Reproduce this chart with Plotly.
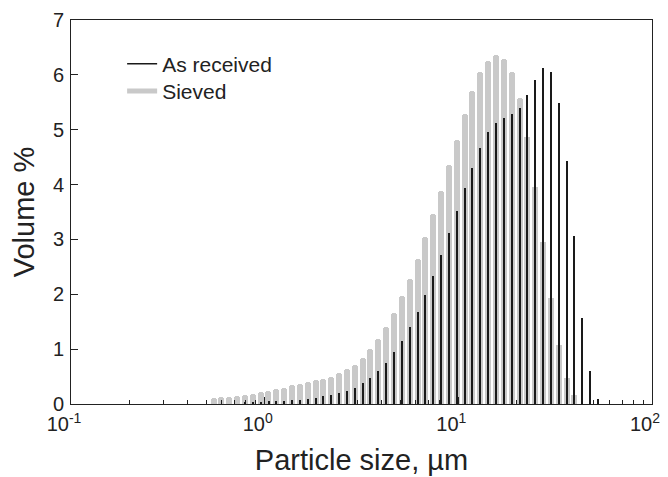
import plotly.graph_objects as go

# Particle size channels (um)
sizes = [0.545, 0.598, 0.656, 0.721, 0.791, 0.868, 0.953, 1.047, 1.149, 1.261,
         1.385, 1.520, 1.669, 1.832, 2.011, 2.208, 2.423, 2.660, 2.920, 3.206,
         3.519, 3.863, 4.241, 4.656, 5.111, 5.611, 6.159, 6.761, 7.422, 8.148,
         8.944, 9.819, 10.78, 11.83, 12.99, 14.26, 15.65, 17.18, 18.86, 20.71,
         22.73, 24.95, 27.39, 30.07, 33.01, 36.24, 39.78, 43.67, 47.94, 52.62]

# Volume % - sieved powder
sieved = [0.11, 0.12, 0.13, 0.15, 0.16, 0.18, 0.21, 0.24, 0.27, 0.30,
          0.34, 0.37, 0.40, 0.43, 0.46, 0.50, 0.57, 0.63, 0.72, 0.84,
          1.00, 1.18, 1.40, 1.66, 1.96, 2.28, 2.65, 3.04, 3.46, 3.89,
          4.35, 4.82, 5.29, 5.71, 6.05, 6.26, 6.36, 6.29, 6.05, 5.57,
          4.86, 3.96, 2.95, 1.93, 1.08, 0.47, 0.16, None, None, None]

# Volume % - as received powder
received = [None, None, None, None, 0.02, 0.03, 0.04, 0.05, 0.05, 0.06,
            0.07, 0.08, 0.09, 0.11, 0.14, 0.16, 0.20, 0.24, 0.30, 0.38,
            0.47, 0.60, 0.75, 0.94, 1.15, 1.40, 1.68, 1.99, 2.33, 2.71,
            3.11, 3.52, 3.93, 4.31, 4.67, 4.95, 5.13, 5.22, 5.28, 5.40,
            5.63, 5.90, 6.12, 6.05, 5.48, 4.43, 3.06, 1.57, 0.60, 0.10]

x_ticks = [0.1, 1, 10, 100]
x_ticktext = ["10<sup>-1</sup>", "10<sup>0</sup>", "10<sup>1</sup>", "10<sup>2</sup>"]
minor_vals = [m * 10 ** e for e in (-1, 0, 1) for m in range(2, 10)]

GREY = "#c9c9c9"
BLACK = "#1a1a1a"

# bar widths expressed in linear units so they look constant on a log axis
def widths(half_log):
    f = 10 ** half_log - 10 ** (-half_log)
    return [d * f for d in sizes]

fig = go.Figure()
fig.add_trace(go.Bar(x=sizes, y=sieved, width=widths(0.0155),
                     marker=dict(color=GREY, line=dict(width=0), cornerradius=3),
                     showlegend=False, name="Sieved"))
fig.add_trace(go.Bar(x=sizes, y=received, width=widths(0.0052),
                     marker=dict(color=BLACK, line=dict(width=0)),
                     showlegend=False, name="As received"))
# legend entries
fig.add_trace(go.Scatter(x=[None], y=[None], mode="lines", name="As received",
                         line=dict(color=BLACK, width=1.5), legend="legend"))
fig.add_trace(go.Scatter(x=[None], y=[None], mode="lines", name="Sieved",
                         line=dict(color=GREY, width=5), legend="legend2"))

font = "Liberation Sans, Arial, sans-serif"
fig.update_layout(
    width=660, height=469,
    margin=dict(l=63, r=16, t=12, b=73, autoexpand=False),
    paper_bgcolor="white", plot_bgcolor="white",
    barmode="overlay", bargap=0,
    font=dict(family=font, size=20, color="#222222"),
    legend=dict(x=0.088, y=0.885, xanchor="left", yanchor="middle",
                bgcolor="rgba(0,0,0,0)", font=dict(size=21)),
    legend2=dict(x=0.088, y=0.814, xanchor="left", yanchor="middle",
                 bgcolor="rgba(0,0,0,0)", font=dict(size=21)),
    xaxis=dict(type="log", range=[-1, 2], showline=True, mirror=True,
               linecolor="#222222", linewidth=1, showgrid=False, zeroline=False,
               automargin=False,
               ticks="inside", ticklen=7, tickcolor="#222222",
               ticklabelstandoff=2, ticklabelshift=-7,
               tickvals=x_ticks, ticktext=x_ticktext,
               minor=dict(ticks="inside", ticklen=4, tickcolor="#222222",
                          tickvals=minor_vals),
               title=dict(text="Particle size, µm", font=dict(size=29), standoff=15)),
    yaxis=dict(range=[0, 7], dtick=1, showline=True, mirror=True,
               linecolor="#222222", linewidth=1, showgrid=False, zeroline=False,
               automargin=False,
               ticks="inside", ticklen=7, tickcolor="#222222",
               ticklabelstandoff=2,
               title=dict(text="Volume %", font=dict(size=29), standoff=10)),
)

fig.write_html("out.html")
